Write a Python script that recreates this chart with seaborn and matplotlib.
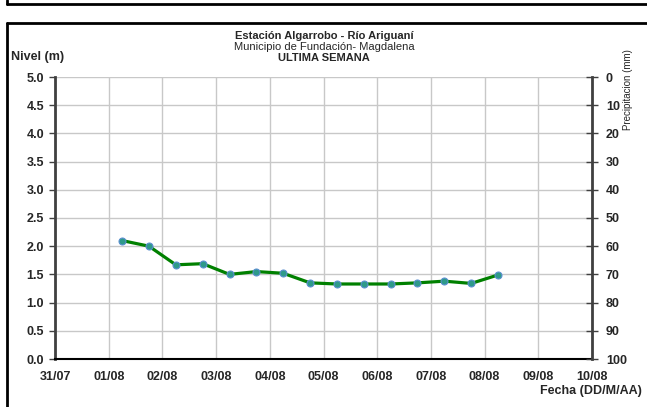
import pandas as pd
import seaborn as sns
import matplotlib.pyplot as plt
import matplotlib.dates as mdates
from matplotlib.lines import Line2D

# Readings (two per day, 06:00 and 18:00)
fechas = ["2013-08-01 06:00", "2013-08-01 18:00", "2013-08-02 06:00", "2013-08-02 18:00",
          "2013-08-03 06:00", "2013-08-03 18:00", "2013-08-04 06:00", "2013-08-04 18:00",
          "2013-08-05 06:00", "2013-08-05 18:00", "2013-08-06 06:00", "2013-08-06 18:00",
          "2013-08-07 06:00", "2013-08-07 18:00", "2013-08-08 06:00"]
nivel = [2.10, 2.00, 1.67, 1.69, 1.50, 1.55, 1.52, 1.35,
         1.33, 1.33, 1.33, 1.35, 1.38, 1.34, 1.49]

x_inicio = "2013-07-31"
x_fin = "2013-08-10"
nivel_ticks = [0.0, 0.5, 1.0, 1.5, 2.0, 2.5, 3.0, 3.5, 4.0, 4.5, 5.0]
precip_ticks = [0, 10, 20, 30, 40, 50, 60, 70, 80, 90, 100]

df = pd.DataFrame({"Fecha": pd.to_datetime(fechas), "Nivel": nivel})

sns.set_style("white")
plt.rcParams['font.family'] = ['Liberation Sans', 'DejaVu Sans']

W, H = 647, 407
fig = plt.figure(figsize=(W / 100, H / 100), dpi=100)
ax = fig.add_axes([55 / W, 1 - 359 / H, (592 - 55) / W, (359 - 77) / H])

sns.lineplot(data=df, x="Fecha", y="Nivel", ax=ax, color="#008000", linewidth=2.3,
             marker="o", markersize=5, markerfacecolor="#2e9a8a",
             markeredgecolor="#5b8fd0", markeredgewidth=0.8)

ax.set_xlim(pd.Timestamp(x_inicio), pd.Timestamp(x_fin))
ax.set_ylim(0, 5)
ax.set_yticks(nivel_ticks)
ax.set_yticklabels([f"{v:.1f}" for v in nivel_ticks])
ax.xaxis.set_major_locator(mdates.DayLocator())
ax.xaxis.set_major_formatter(mdates.DateFormatter("%d/%m"))
ax.grid(True, color="#c8c8c8", linewidth=1)
ax.set_axisbelow(True)
ax.set_xlabel("")
ax.set_ylabel("")

for lab in ax.get_xticklabels() + ax.get_yticklabels():
    lab.set_fontweight("bold")
    lab.set_fontsize(9)
ax.tick_params(axis="y", direction="out", length=4, width=1, color="#404040", pad=4)
ax.tick_params(axis="x", length=0, pad=9)

ax.spines["top"].set_visible(False)
ax.spines["left"].set_color("#404040")
ax.spines["left"].set_linewidth(2)
ax.spines["bottom"].set_color("black")
ax.spines["bottom"].set_linewidth(1.5)
ax.spines["right"].set_visible(False)

# Secondary axis: precipitation (inverted, no data shown)
ax2 = ax.twinx()
ax2.set_ylim(100, 0)
ax2.set_yticks(precip_ticks)
ax2.grid(False)
for s in ["top", "left", "bottom"]:
    ax2.spines[s].set_visible(False)
ax2.spines["right"].set_color("#404040")
ax2.spines["right"].set_linewidth(2)
ax2.tick_params(axis="y", direction="inout", length=8, width=1, color="#404040", pad=6)
for lab in ax2.get_yticklabels():
    lab.set_fontweight("bold")
    lab.set_fontsize(9)

# Titles and axis labels
fig.text(324 / W, 1 - 39 / H, "Estación Algarrobo - Río Ariguaní", ha="center", va="baseline",
         fontsize=8, fontweight="bold")
fig.text(324 / W, 1 - 50 / H, "Municipio de Fundación- Magdalena", ha="center", va="baseline",
         fontsize=8)
fig.text(324 / W, 1 - 61 / H, "ULTIMA SEMANA", ha="center", va="baseline",
         fontsize=8, fontweight="bold")
fig.text(11 / W, 1 - 57 / H, "Nivel (m)", ha="left", va="center", fontsize=9, fontweight="bold")
fig.text(642 / W, 1 - 391 / H, "Fecha (DD/M/AA)", ha="right", va="center",
         fontsize=9, fontweight="bold")
fig.text(628 / W, 1 - 90 / H, "Precipitacion (mm)", ha="center", va="center", rotation=90,
         fontsize=7)

# Frame boxes
lw = 2
fig.add_artist(Line2D([7 / W, 1], [1 - 4 / H, 1 - 4 / H], color="black", lw=lw))
fig.add_artist(Line2D([7 / W, 7 / W], [1, 1 - 4 / H], color="black", lw=lw))
fig.add_artist(Line2D([7 / W, 1], [1 - 23 / H, 1 - 23 / H], color="black", lw=lw))
fig.add_artist(Line2D([7 / W, 7 / W], [0, 1 - 23 / H], color="black", lw=lw))

plt.savefig("out.png", dpi=100)
